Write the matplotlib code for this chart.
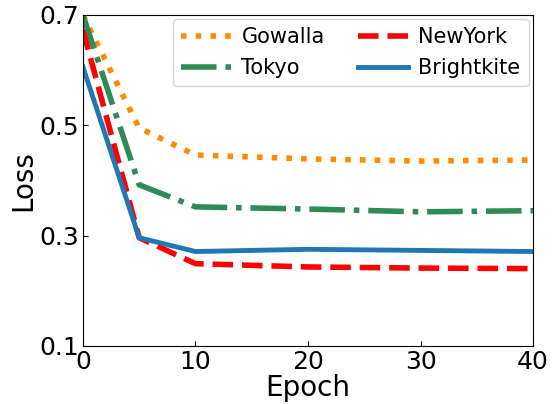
import matplotlib
matplotlib.use("Agg")
import matplotlib.pyplot as plt

# --- dados ---
epochs = [0, 5, 10, 20, 30, 40]
gowalla = [0.700, 0.495, 0.446, 0.439, 0.435, 0.437]
tokyo = [0.700, 0.392, 0.352, 0.348, 0.343, 0.345]
newyork = [0.673, 0.296, 0.249, 0.243, 0.241, 0.240]
brightkite = [0.606, 0.296, 0.271, 0.275, 0.273, 0.271]

fig = plt.figure(figsize=(5.6, 4.04), dpi=100)
ax = fig.add_axes([0.148, 0.144, 0.804, 0.819])

ax.plot(epochs, gowalla, color="darkorange", linestyle=":", linewidth=4, label="Gowalla")
ax.plot(epochs, tokyo, color="seagreen", linestyle="-.", linewidth=4, label="Tokyo")
ax.plot(epochs, newyork, color="red", linestyle="--", linewidth=4, label="NewYork")
ax.plot(epochs, brightkite, color="#1f77b4", linestyle="-", linewidth=3.5, label="Brightkite")

ax.set_xlim(0, 40)
ax.set_ylim(0.1, 0.7)
ax.set_xticks([0, 10, 20, 30, 40])
ax.set_yticks([0.1, 0.3, 0.5, 0.7])
ax.tick_params(direction="in", labelsize=18, pad=3)
ax.set_xlabel("Epoch", fontsize=20, labelpad=0)
ax.set_ylabel("Loss", fontsize=20, labelpad=1)

ax.legend(ncol=2, fontsize=15, loc="upper right", handlelength=2.4,
          columnspacing=1.6, handletextpad=0.5, labelspacing=0.5,
          borderaxespad=0.2)

fig.savefig("out.png", dpi=100)
